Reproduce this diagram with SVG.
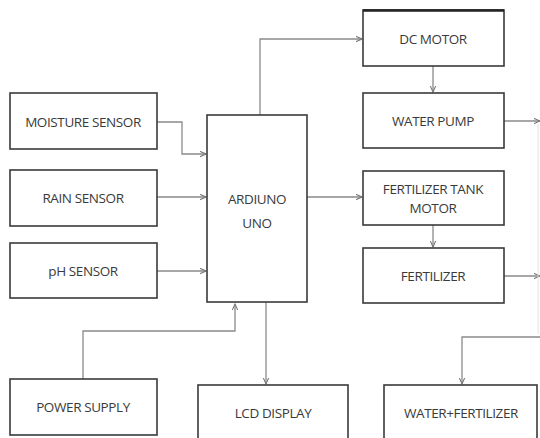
<svg xmlns="http://www.w3.org/2000/svg" width="540" height="438" viewBox="0 0 540 438">
<defs>
<style>
.box{fill:#fff;stroke:#3a3a3a;stroke-width:1.6}
.lbl{font-family:"Open Sans","Liberation Sans",sans-serif;font-size:13.5px;fill:#3a3a3a;text-anchor:middle;letter-spacing:-0.4px}
.con{fill:none;stroke:#8a8a8a;stroke-width:1.3}
</style>
<marker id="ah" viewBox="0 0 10 10" refX="9" refY="5" markerWidth="7" markerHeight="7" orient="auto" markerUnits="userSpaceOnUse">
<path d="M0,1 L9,5 L0,9" fill="none" stroke="#777" stroke-width="1.5"/>
</marker>
</defs>
<rect width="540" height="438" fill="#fff"/>
<g id="connectors">
<polyline class="con" points="157,122 182,122 182,154 206,154" marker-end="url(#ah)"/>
<polyline class="con" points="157,197 206,197" marker-end="url(#ah)"/>
<polyline class="con" points="157,271 206,271" marker-end="url(#ah)"/>
<polyline class="con" points="260,115 260,39 362,39" marker-end="url(#ah)"/>
<polyline class="con" points="433,66 433,92" marker-end="url(#ah)"/>
<polyline class="con" points="307,197 362,197" marker-end="url(#ah)"/>
<polyline class="con" points="433,225 433,247" marker-end="url(#ah)"/>
<polyline class="con" points="504,121 540,121" marker-end="url(#ah)"/>
<polyline class="con" points="504,276 540,276" marker-end="url(#ah)"/>
<line x1="538" y1="124" x2="538" y2="334" stroke="#e2e2e2" stroke-width="1"/>
<polyline class="con" points="83,379 83,331 235,331 235,304" marker-end="url(#ah)"/>
<polyline class="con" points="266,302 266,384" marker-end="url(#ah)"/>
<polyline class="con" points="540,337 462,337 462,384" marker-end="url(#ah)"/>
</g>
<g id="moisture"><rect class="box" x="10" y="93" width="147" height="56"/><text class="lbl" x="83" y="127">MOISTURE SENSOR</text></g>
<g id="rain"><rect class="box" x="10" y="170" width="147" height="56"/><text class="lbl" x="83" y="203">RAIN SENSOR</text></g>
<g id="ph"><rect class="box" x="10" y="243" width="147" height="55"/><text class="lbl" x="83" y="276">pH SENSOR</text></g>
<g id="arduino"><rect class="box" x="207" y="115" width="100" height="187"/><text class="lbl" x="257" y="204">ARDIUNO</text><text class="lbl" x="257" y="228">UNO</text></g>
<g id="dcmotor"><rect class="box" x="363" y="10" width="141" height="56"/><line x1="363" y1="10.5" x2="504" y2="10.5" stroke="#222" stroke-width="2.5"/><text class="lbl" x="433" y="44">DC MOTOR</text></g>
<g id="waterpump"><rect class="box" x="363" y="93" width="141" height="55"/><text class="lbl" x="433" y="126">WATER PUMP</text></g>
<g id="fertmotor"><rect class="box" x="363" y="171" width="141" height="54"/><text class="lbl" x="433" y="194">FERTILIZER TANK</text><text class="lbl" x="433" y="213">MOTOR</text></g>
<g id="fertilizer"><rect class="box" x="363" y="248" width="141" height="55"/><text class="lbl" x="433" y="281">FERTILIZER</text></g>
<g id="power"><rect class="box" x="10" y="379" width="147" height="56"/><text class="lbl" x="83" y="412">POWER SUPPLY</text></g>
<g id="lcd"><rect class="box" x="198" y="385" width="150" height="70"/><text class="lbl" x="273" y="418">LCD DISPLAY</text></g>
<g id="waterfert"><rect class="box" x="384" y="385" width="153" height="70"/><text class="lbl" x="461" y="418">WATER+FERTILIZER</text></g>
</svg>
